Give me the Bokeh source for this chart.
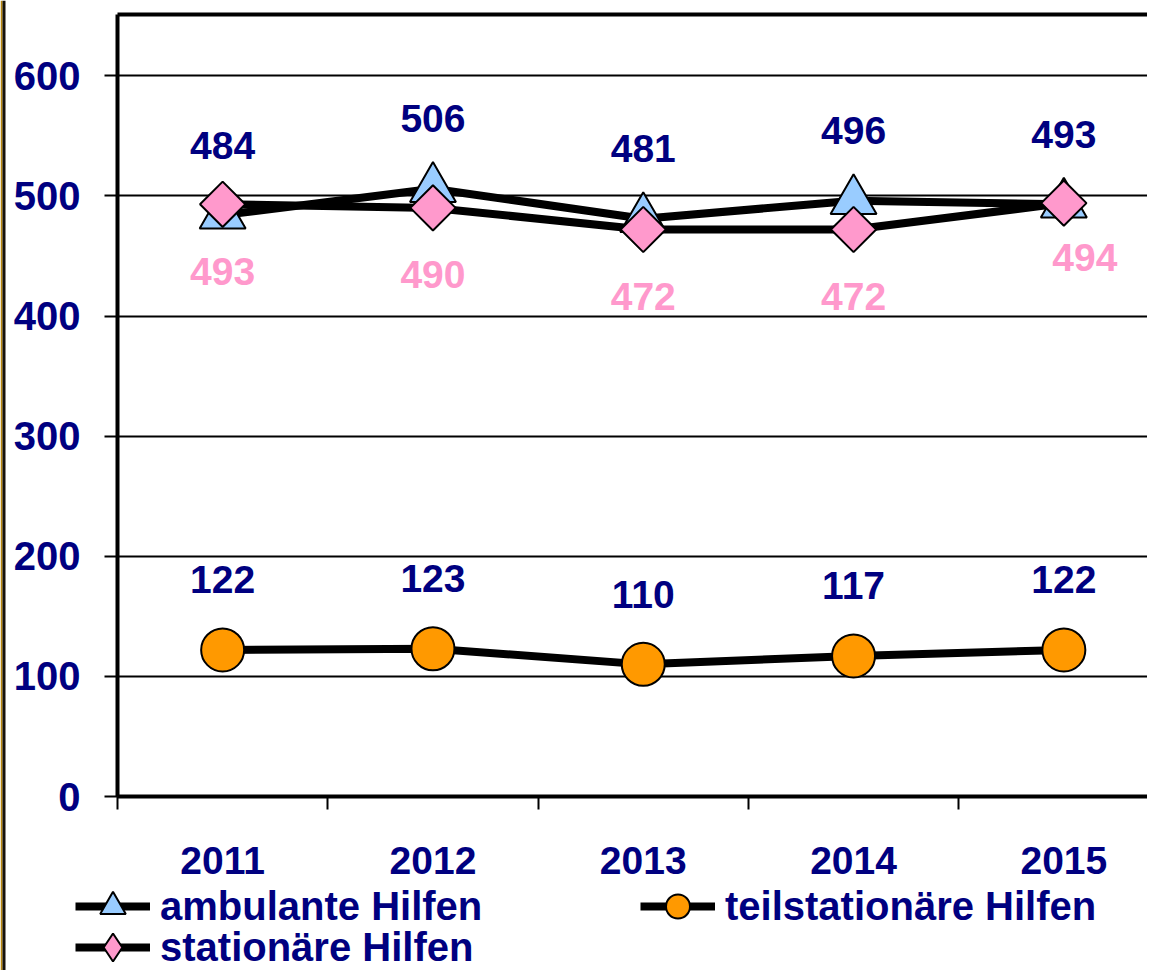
from bokeh.plotting import figure
from bokeh.models import Range1d, FixedTicker, LinearAxis, Legend, LegendItem, Span
from bokeh.core.properties import value
from bokeh.embed import file_html
from bokeh.resources import INLINE

# ---- data ----
years = [2011, 2012, 2013, 2014, 2015]
year_labels = ["2011", "2012", "2013", "2014", "2015"]
ambulante = [484, 506, 481, 496, 493]
teilstationaer = [122, 123, 110, 117, 122]
stationaer = [493, 490, 472, 472, 494]
y_ticks = [0, 100, 200, 300, 400, 500, 600]
series_names = ["ambulante Hilfen", "teilstationäre Hilfen", "stationäre Hilfen"]
y_max = 651

NAVY = "#000080"
PINK = "#FF99CC"
BLUE = "#99CCFF"
ORANGE = "#FF9900"
FONT = "Liberation Sans"
FS = "39px"
FS_Y = "40px"

# ---- layout geometry (pixels) ----
W, H = 1147, 970
AX_LEFT, AX_TOP, AX_BOTTOM = 117, 14, 796
PX_YEAR = 210.3
PX_UNIT = (AX_BOTTOM - AX_TOP) / y_max
x_first = years[0] - 0.5
x_start = x_first - AX_LEFT / PX_YEAR
x_end = x_first + (W - AX_LEFT) / PX_YEAR
y_end = y_max + AX_TOP / PX_UNIT
y_start = y_max - (H - AX_TOP) / PX_UNIT

p = figure(frame_width=W, frame_height=H, output_backend="svg", toolbar_location=None,
           x_range=Range1d(x_start, x_end), y_range=Range1d(y_start, y_end),
           min_border=0, min_border_left=0, min_border_right=0, min_border_top=0,
           min_border_bottom=0)
p.outline_line_color = None
p.background_fill_color = "white"
p.border_fill_color = "white"

# slide edge on the left
p.add_layout(Span(location=x_start + 1 / PX_YEAR, dimension="height",
                  line_color="#B8860B", line_width=2))
p.add_layout(Span(location=x_start + 3.5 / PX_YEAR, dimension="height",
                  line_color="#15110a", line_width=3))

# grid
p.xgrid.visible = False
p.ygrid.ticker = FixedTicker(ticks=y_ticks)
p.ygrid.cross_bounds = (x_first, x_end)
p.ygrid.grid_line_color = "black"
p.ygrid.grid_line_width = 2

# x axis (at y = 0)
xa = p.xaxis[0]
xa.fixed_location = 0
xa.bounds = (x_first, x_end)
xa.ticker = FixedTicker(ticks=years, minor_ticks=[y - 0.5 for y in years])
xa.major_label_overrides = {y: l for y, l in zip(years, year_labels)}
xa.major_tick_out = 0
xa.major_tick_in = 0
xa.minor_tick_out = 13
xa.minor_tick_in = 0
xa.minor_tick_line_width = 2
xa.minor_tick_line_color = "black"
xa.axis_line_width = 4
xa.axis_line_color = "black"
xa.major_label_standoff = 37
xa.major_label_text_font = FONT
xa.major_label_text_font_style = "bold"
xa.major_label_text_font_size = FS
xa.major_label_text_color = NAVY

# y axis (at left band edge)
ya = p.yaxis[0]
ya.fixed_location = x_first
ya.bounds = (0, y_max)
ya.ticker = FixedTicker(ticks=y_ticks, minor_ticks=[])
ya.major_tick_out = 13
ya.major_tick_in = 0
ya.major_tick_line_width = 2
ya.major_tick_line_color = "black"
ya.minor_tick_out = 0
ya.minor_tick_in = 0
ya.axis_line_width = 4
ya.axis_line_color = "black"
ya.major_label_standoff = 24
ya.major_label_text_font = FONT
ya.major_label_text_font_style = "bold"
ya.major_label_text_font_size = FS_Y
ya.major_label_text_color = NAVY

# top border of the plot area
top = LinearAxis(fixed_location=y_max, bounds=(x_first, x_end),
                 ticker=FixedTicker(ticks=[], minor_ticks=[]), major_tick_out=0, major_tick_in=0,
                 minor_tick_out=0, minor_tick_in=0, major_label_standoff=0,
                 major_label_text_font_size="0px", axis_line_width=4, axis_line_color="black")
p.add_layout(top, "above")

# series
l_amb = p.line(years, ambulante, line_color="black", line_width=8)
m_amb = p.scatter(years, ambulante, marker="triangle", size=46, fill_color=BLUE,
                  line_color="black", line_width=2)
l_teil = p.line(years, teilstationaer, line_color="black", line_width=8)
m_teil = p.scatter(years, teilstationaer, marker="circle", size=43, fill_color=ORANGE,
                   line_color="black", line_width=2)
l_stat = p.line(years, stationaer, line_color="black", line_width=8)
# diamond marker used for the legend symbol (sits fully under the rotated square)
m_stat_leg = p.scatter(years, stationaer, marker="diamond", size=28, fill_color=PINK,
                       line_color="black", line_width=2)
m_stat = p.scatter(years, stationaer, marker="square", size=32, angle=0.785398,
                   fill_color=PINK, line_color="black", line_width=2)

# data labels
lbl = dict(text_font=value(FONT), text_font_style="bold", text_font_size=value(FS),
           text_align="center", text_baseline="middle")
p.text(x=years, y=ambulante, text=[str(v) for v in ambulante], text_color=NAVY,
       y_offset=-70, **lbl)
p.text(x=years, y=teilstationaer, text=[str(v) for v in teilstationaer], text_color=NAVY,
       y_offset=-70, **lbl)
stat_dx = [0, 0, 0, 0, 21]
stat_dy = [67, 67, 67, 67, 54]
p.text(x=years, y=stationaer, text=[str(v) for v in stationaer], text_color=PINK,
       x_offset=stat_dx, y_offset=stat_dy, **lbl)

# legend: one legend box per entry, placed in frame pixels (from bottom-left)
def add_legend(label, renderers, left, center_y, glyph_h):
    lg = Legend(items=[LegendItem(label=label, renderers=renderers)],
                location=(left, H - center_y - glyph_h / 2),
                orientation="vertical", glyph_width=75, glyph_height=glyph_h,
                label_height=glyph_h, label_standoff=10, padding=0, margin=0, spacing=0,
                border_line_alpha=0, background_fill_alpha=0,
                label_text_font=FONT, label_text_font_style="bold",
                label_text_font_size=FS_Y, label_text_color=NAVY,
                label_text_baseline="middle")
    p.add_layout(lg, "center")

add_legend(series_names[0], [l_amb, m_amb], 75, 906, 64)
add_legend(series_names[1], [l_teil, m_teil], 640, 906, 60)
add_legend(series_names[2], [l_stat, m_stat_leg], 75, 947, 70)

open("out.html", "w").write(file_html(p, INLINE))
